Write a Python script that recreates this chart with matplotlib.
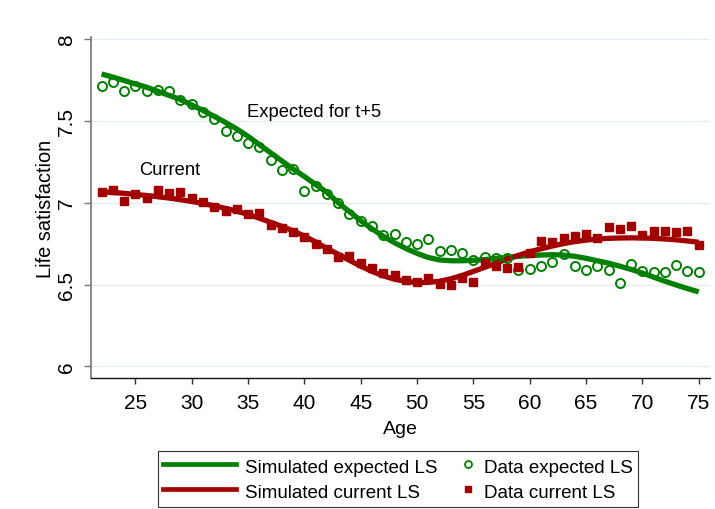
import matplotlib
matplotlib.use("Agg")
import matplotlib.pyplot as plt
from matplotlib.lines import Line2D
from matplotlib.legend_handler import HandlerLine2D

plt.rcParams['font.family'] = ['Liberation Sans', 'DejaVu Sans']

ages = list(range(22, 76))

data_expected = [7.71, 7.74, 7.685, 7.715, 7.68, 7.69, 7.68, 7.625, 7.605, 7.555,
                 7.51, 7.44, 7.405, 7.365, 7.34, 7.26, 7.197, 7.205, 7.07, 7.10,
                 7.05, 7.0, 6.93, 6.885, 6.86, 6.80, 6.81, 6.757, 6.745, 6.78,
                 6.705, 6.71, 6.69, 6.65, 6.665, 6.66, 6.66, 6.59, 6.594, 6.614,
                 6.635, 6.684, 6.61, 6.59, 6.614, 6.588, 6.507, 6.625, 6.58, 6.574,
                 6.574, 6.62, 6.58, 6.574]

data_current = [7.065, 7.08, 7.008, 7.052, 7.03, 7.077, 7.057, 7.063, 7.03, 7.003,
                6.973, 6.946, 6.96, 6.93, 6.934, 6.863, 6.843, 6.822, 6.792, 6.745,
                6.716, 6.666, 6.676, 6.63, 6.60, 6.568, 6.557, 6.529, 6.516, 6.537,
                6.502, 6.498, 6.54, 6.516, 6.629, 6.61, 6.60, 6.605, 6.69, 6.765,
                6.76, 6.782, 6.798, 6.808, 6.782, 6.853, 6.84, 6.86, 6.802, 6.825,
                6.825, 6.818, 6.828, 6.743]

sim_expected = [7.786, 7.767, 7.746, 7.725, 7.705, 7.68, 7.655, 7.63, 7.597, 7.563,
                7.527, 7.49, 7.45, 7.405, 7.355, 7.305, 7.255, 7.205, 7.16, 7.11,
                7.063, 7.0, 6.945, 6.89, 6.84, 6.795, 6.755, 6.72, 6.69, 6.665,
                6.65, 6.645, 6.645, 6.648, 6.652, 6.66, 6.666, 6.672, 6.677, 6.68,
                6.682, 6.68, 6.672, 6.66, 6.645, 6.63, 6.612, 6.592, 6.57, 6.545,
                6.52, 6.497, 6.475, 6.455]

sim_current = [7.067, 7.062, 7.057, 7.05, 7.044, 7.036, 7.028, 7.018, 7.007, 6.995,
               6.98, 6.965, 6.948, 6.928, 6.905, 6.88, 6.855, 6.828, 6.795, 6.76,
               6.72, 6.685, 6.648, 6.612, 6.58, 6.553, 6.532, 6.519, 6.513, 6.513,
               6.52, 6.535, 6.555, 6.58, 6.605, 6.63, 6.655, 6.678, 6.7, 6.718,
               6.735, 6.75, 6.762, 6.771, 6.778, 6.782, 6.784, 6.785, 6.784, 6.782,
               6.778, 6.773, 6.766, 6.758]

x_ticks = [25, 30, 35, 40, 45, 50, 55, 60, 65, 70, 75]
y_ticks = [6, 6.5, 7, 7.5, 8]
y_tick_labels = ["6", "6.5", "7", "7.5", "8"]

GREEN = '#008000'
RED = '#a30000'

W, H = 715, 510
fig = plt.figure(figsize=(W / 100, H / 100), dpi=100)
ax_left, ax_right, ax_top, ax_bottom = 91, 710, 38, 379.3
ax = fig.add_axes([ax_left / W, 1 - ax_bottom / H, (ax_right - ax_left) / W, (ax_bottom - ax_top) / H])

for yv in y_ticks:
    ax.axhline(yv, color='#e6edf2', lw=1.0, zorder=0)

ax.plot(ages, sim_expected, color=GREEN, lw=3.8, solid_capstyle='butt', zorder=3)
ax.plot(ages, sim_current, color=RED, lw=3.8, solid_capstyle='butt', zorder=3)
ax.plot(ages, data_expected, linestyle='none', marker='o', markersize=6.5,
        markerfacecolor='none', markeredgecolor=GREEN, markeredgewidth=1.4, zorder=4)
ax.plot(ages, data_current, linestyle='none', marker='s', markersize=5.2,
        markerfacecolor=RED, markeredgecolor=RED, zorder=4)

ax.text(34.9, 7.555, "Expected for t+5", fontsize=13.2, ha='left', va='center')
ax.text(25.3, 7.2, "Current", fontsize=13.2, ha='left', va='center')

ax.set_xlim(21.06, 76.0)
ax.set_ylim(5.927, 8.012)
ax.set_xticks(x_ticks)
ax.set_xticklabels([str(v) for v in x_ticks], fontsize=15)
ax.set_yticks(y_ticks)
ax.set_yticklabels(y_tick_labels, fontsize=15, rotation=90, va='center')
ax.tick_params(axis='x', direction='out', length=4.5, width=1, color='#333333', pad=6)
ax.tick_params(axis='y', direction='out', length=5, width=1, color='#777777', pad=6)

ax.spines['top'].set_visible(False)
ax.spines['right'].set_visible(False)
ax.spines['left'].set_color('#777777')
ax.spines['left'].set_linewidth(1.2)
ax.spines['bottom'].set_color('#111111')
ax.spines['bottom'].set_linewidth(1.0)

ax.set_xlabel("Age", fontsize=14)
ax.set_ylabel("Life satisfaction", fontsize=14.4)
ax.xaxis.set_label_coords(0.5, -(430 - ax_bottom) / (ax_bottom - ax_top), transform=ax.transAxes)
ax.xaxis.label.set_va('center')
ax.yaxis.set_label_coords(-(ax_left - 46) / (ax_right - ax_left), 0.5, transform=ax.transAxes)
ax.yaxis.label.set_va('center')


class RightMarker(HandlerLine2D):
    """Place the single legend marker near the right end of the handle box."""
    def get_xdata(self, legend, xdescent, ydescent, width, height, fontsize):
        xd = [-xdescent + width * 0.8, -xdescent + width * 1.0]
        return xd, [-xdescent + width * 0.9]


h1 = Line2D([], [], color=GREEN, lw=3.4)
h2 = Line2D([], [], color=RED, lw=3.4)
h3 = Line2D([], [], linestyle='none', marker='o', markersize=5, markerfacecolor='none',
            markeredgecolor=GREEN, markeredgewidth=1.3)
h4 = Line2D([], [], linestyle='none', marker='s', markersize=4.3,
            markerfacecolor=RED, markeredgecolor=RED)

leg = fig.legend([h1, h2, h3, h4],
                 ["Simulated expected LS", "Simulated current LS",
                  "Data expected LS", "Data current LS"],
                 ncol=2, loc='upper left', bbox_to_anchor=(158.3 / W, 1 - 451.7 / H),
                 borderaxespad=0,
                 fontsize=13.5, frameon=True, fancybox=False, edgecolor='black',
                 handlelength=3.88, handleheight=1.3, handletextpad=0.48,
                 columnspacing=-1.88, labelspacing=0.25, borderpad=0.27,
                 handler_map={h3: RightMarker(numpoints=1), h4: RightMarker(numpoints=1)})
leg.get_frame().set_linewidth(0.8)

fig.savefig("out.png", dpi=100)
